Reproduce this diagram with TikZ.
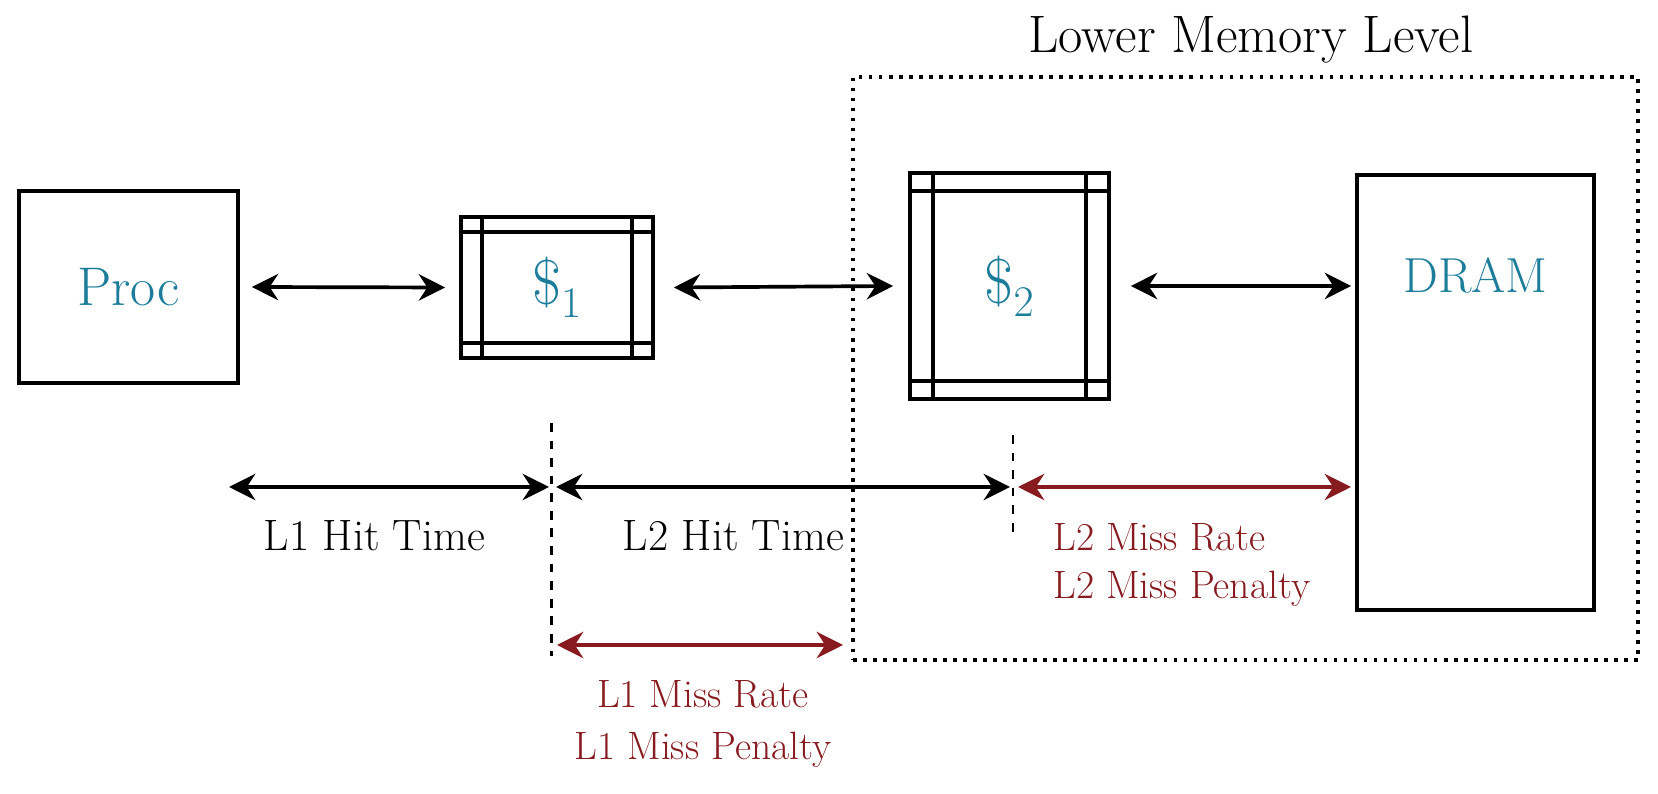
\documentclass[tikz,border=0pt]{standalone}
\usepackage{tikz}
\usetikzlibrary{arrows.meta, positioning, calc}
\definecolor{unitteal}{RGB}{27,125,154}
\definecolor{missred}{RGB}{135,27,32}
\tikzset{
  unitbox/.style={rectangle, draw, line width=2.1pt, inner sep=0pt,
    text=unitteal},
  cachebox/.style={unitbox, font=\fontsize{36}{40}\selectfont},
  dblarrow/.style={{Stealth[length=15pt, width=15pt]}-{Stealth[length=15pt, width=15pt]},
    line width=2.1pt},
  missarrow/.style={dblarrow, color=missred},
  divider/.style={line width=1.4pt, dash pattern=on 5pt off 5pt},
  hitlabel/.style={inner sep=0pt, font=\fontsize{25}{30}\selectfont},
  misslabel/.style={inner sep=0pt, text=missred},
}
% inner strips of a cache block: node, x offset, y offset
\newcommand{\cachestrips}[3]{
  \draw[line width=2.1pt] ([xshift=#2]#1.north west) -- ([xshift=#2]#1.south west)
    ([xshift=-#2]#1.north east) -- ([xshift=-#2]#1.south east)
    ([yshift=-#3]#1.north west) -- ([yshift=-#3]#1.north east)
    ([yshift=#3]#1.south west) -- ([yshift=#3]#1.south east);
}

\begin{document}
\begin{tikzpicture}
  \useasboundingbox (0,0) rectangle (33.16,15.88);

  % lower memory level
  \node[rectangle, draw, line width=2pt, dash pattern=on 2pt off 3.7pt,
        minimum width=15.7cm, minimum height=11.66cm] (lower) at (24.91,8.51) {};
  \node[inner sep=0pt, font=\fontsize{30}{34}\selectfont] (lowertitle) at (25.02,15.08)
    {Lower Memory Level};

  % units
  \node[unitbox, minimum width=4.38cm, minimum height=3.83cm,
        font=\fontsize{31}{36}\selectfont] (proc) at (2.57,10.14) {Proc};
  \node[cachebox, minimum width=3.84cm, minimum height=2.82cm] (cacheone) at (11.14,10.13)
    {\$$_1$};
  \node[cachebox, minimum width=3.98cm, minimum height=4.52cm] (cachetwo) at (20.19,10.16)
    {\$$_2$};
  \cachestrips{cacheone}{0.46cm}{0.34cm}
  \cachestrips{cachetwo}{0.5cm}{0.4cm}
  \node[unitbox, minimum width=4.74cm, minimum height=8.7cm] (dram) at (29.51,8.03) {};
  \node[inner sep=0pt, text=unitteal, font=\fontsize{28}{32}\selectfont]
    (dramlabel) at ($(dram.north)+(0,-2.04)$) {DRAM};

  \draw[dblarrow] ([xshift=0.24cm]proc.east) -- ([xshift=-0.28cm]cacheone.west);
  \draw[dblarrow] ([xshift=0.38cm]cacheone.east) -- ([xshift=-0.3cm]cachetwo.west);
  \draw[dblarrow] ([xshift=0.4cm]cachetwo.east) -- ([xshift=-0.08cm]cachetwo.east -| dram.west);

  % timing
  \coordinate (cutone) at (11.03,7.42);
  \coordinate (cuttwo) at (20.26,7.18);
  \draw[divider] (cutone) -- ++(0,-4.66);
  \draw[divider] (cuttwo) -- ++(0,-2.06);

  \coordinate (hitstart) at (4.58,6.14);
  \coordinate (hitend) at (27.02,6.14);
  \draw[dblarrow] (hitstart) -- ([xshift=-0.05cm]hitstart -| cutone);
  \draw[dblarrow] ([xshift=0.09cm]hitstart -| cutone) -- ([xshift=-0.06cm]hitstart -| cuttwo);
  \draw[missarrow] ([xshift=0.1cm]hitstart -| cuttwo) -- (hitend);
  \draw[missarrow] ([xshift=0.11cm]cutone |- 0,2.98) -- (16.86,2.98);

  \node[hitlabel] (lonehit) at (7.49,5.16) {L1 Hit Time};
  \node[hitlabel] (ltwohit) at (14.67,5.16) {L2 Hit Time};
  \node[misslabel, anchor=north west, align=left, font=\fontsize{22.5}{27.3}\selectfont]
    (ltwomiss) at (21.06,5.42) {L2 Miss Rate\\L2 Miss Penalty};
  \node[misslabel, anchor=north, align=center, font=\fontsize{22.5}{29.6}\selectfont]
    (lonemiss) at (14.06,2.28) {L1 Miss Rate\\L1 Miss Penalty};
\end{tikzpicture}
\end{document}
